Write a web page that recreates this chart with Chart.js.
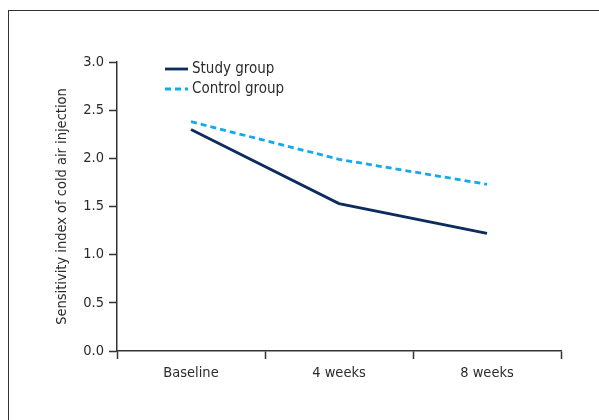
<!doctype html>
<html lang="en">
  <head>
    <meta charset="utf-8">
    <title>Sensitivity index of cold air injection</title>
    <script src="https://cdn.jsdelivr.net/npm/chart.js@4.4.1/dist/chart.umd.min.js"></script>
    <style>
      body {
        margin: 0;
        background: #fff;
      }
      #frame {
        position: absolute;
        left: 8px;
        top: 10px;
        width: 600px;
        height: 420px;
        border-left: 1.5px solid #333;
        border-top: 1.5px solid #333;
      }
      #myChart {
        position: absolute;
        left: 0;
        top: 0;
      }
    </style>
  </head>
  <body>
    <div id="frame"></div>
    <canvas id="myChart" width="599" height="420"></canvas>
    <script>
      const categories = ['Baseline', '4 weeks', '8 weeks'];
      const studyGroup = [2.30, 1.53, 1.22];
      const controlGroup = [2.38, 1.99, 1.73];
      const yTicks = [0, 0.5, 1.0, 1.5, 2.0, 2.5, 3.0];

      const fontFamily = "'DejaVu Sans Condensed', 'Liberation Sans Narrow', sans-serif";
      const textColor = '#2b2b2b';

      // legend drawn inside the plot, top-left, two rows
      const innerLegend = {
        id: 'innerLegend',
        afterDraw(chart) {
          const c = chart.ctx;
          c.save();
          c.font = '15px ' + fontFamily;
          c.textBaseline = 'middle';
          chart.data.datasets.forEach(function(ds, i) {
            const y = 69 + i * 20;
            c.strokeStyle = ds.borderColor;
            c.lineWidth = ds.borderWidth;
            c.setLineDash(ds.borderDash || []);
            c.beginPath();
            c.moveTo(165, y);
            c.lineTo(188, y);
            c.stroke();
            c.setLineDash([]);
            c.fillStyle = textColor;
            c.fillText(ds.label, 192, y);
          });
          c.restore();
        }
      };

      const ctx = document.getElementById('myChart').getContext('2d');
      const myChart = new Chart(ctx, {
        type: 'line',
        data: {
          labels: categories,
          datasets: [{
            label: 'Study group',
            data: studyGroup,
            borderColor: '#0b2c5c',
            borderWidth: 2.8,
            pointRadius: 0,
            tension: 0
          }, {
            label: 'Control group',
            data: controlGroup,
            borderColor: '#12aaea',
            borderWidth: 2.8,
            borderDash: [6, 4],
            pointRadius: 0,
            tension: 0
          }]
        },
        options: {
          responsive: false,
          animation: false,
          layout: {
            padding: { left: 0, right: 38, top: 62, bottom: 0 }
          },
          plugins: {
            legend: { display: false },
            tooltip: { enabled: false }
          },
          scales: {
            x: {
              offset: true,
              grid: {
                offset: true,
                drawOnChartArea: false,
                tickLength: 8,
                tickColor: '#333',
                tickWidth: 1.5
              },
              border: { color: '#333', width: 1.5 },
              ticks: {
                color: textColor,
                padding: 6,
                font: { family: fontFamily, size: 14.5 }
              },
              afterFit(scale) {
                scale.height = 69;
              }
            },
            y: {
              min: 0,
              max: 3,
              afterBuildTicks(scale) {
                scale.ticks = yTicks.map(function(v) { return { value: v }; });
              },
              grid: {
                drawOnChartArea: false,
                tickLength: 8,
                tickColor: '#333',
                tickWidth: 1.5
              },
              border: { color: '#333', width: 1.5 },
              ticks: {
                color: textColor,
                padding: 5,
                font: { family: fontFamily, size: 14.5 },
                callback: function(v) { return Number(v).toFixed(1); }
              },
              title: {
                display: true,
                text: 'Sensitivity index of cold air injection',
                color: textColor,
                font: { family: fontFamily, size: 14.5 },
                padding: { top: 54, bottom: 0 }
              },
              afterFit(scale) {
                scale.width = 117;
              }
            }
          }
        },
        plugins: [innerLegend]
      });
    </script>
  </body>
</html>
